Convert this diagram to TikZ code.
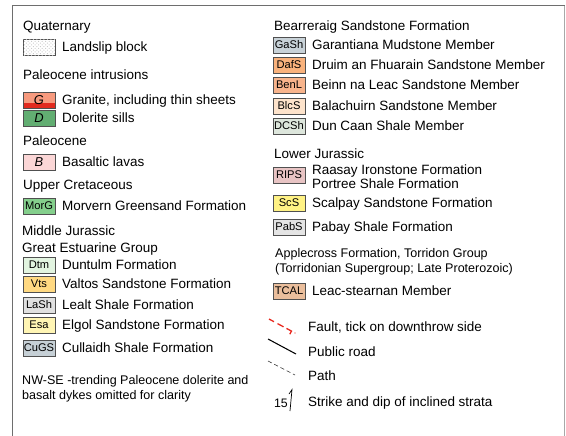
\documentclass[tikz,border=0pt]{standalone}
\usepackage{fontspec}
\setmainfont{Liberation Sans}
\usepackage{tikz}
\usetikzlibrary{positioning,patterns}

\definecolor{cframe}{HTML}{6E6E6E}
\definecolor{cbox}{HTML}{505050}
\definecolor{cgran}{HTML}{F79A7E}
\definecolor{cgred}{HTML}{E22A1E}
\definecolor{cdol}{HTML}{62AE72}
\definecolor{cbas}{HTML}{FBD6D6}
\definecolor{cmorg}{HTML}{84CF8C}
\definecolor{cdtm}{HTML}{E2F4E0}
\definecolor{cvts}{HTML}{FFD982}
\definecolor{clash}{HTML}{E0E0E0}
\definecolor{cesa}{HTML}{FFF5B4}
\definecolor{ccugs}{HTML}{C6D0D6}
\definecolor{cgash}{HTML}{C8D2D8}
\definecolor{cdafs}{HTML}{F9B27C}
\definecolor{cbenl}{HTML}{F8B48C}
\definecolor{cblcs}{HTML}{FDE3CB}
\definecolor{cdcsh}{HTML}{DDE6DC}
\definecolor{crips}{HTML}{E8C4C4}
\definecolor{cscs}{HTML}{FFF284}
\definecolor{cpabs}{HTML}{E4E4E4}
\definecolor{ctcal}{HTML}{EABE9C}
\definecolor{cfault}{HTML}{E8281E}

\tikzset{
  unit/.style={draw=cbox, line width=0.8pt, minimum width=9.6mm, minimum height=4.8mm,
    inner sep=0pt, font=\fontsize{9.5}{9.5}\selectfont},
  bigunit/.style={unit, font=\fontsize{11}{11}\selectfont\itshape},
  lbl/.style={anchor=west, inner sep=0pt, font=\fontsize{11.5}{13}\selectfont,
    text height=8.2pt, text depth=0pt},
  lbltwo/.style={anchor=west, inner sep=0pt, align=left},
}

\begin{document}
\begin{tikzpicture}[x=0.3mm, y=-0.3mm, node distance=1.9mm]
\useasboundingbox (0,0) rectangle (566,435);
% frame
\draw [cframe!60, line width=0.7pt] (564.5,5.5) -- (564.5,440);
\draw [cframe, line width=1.3pt] (12.5,440) -- (12.5,5.5) -- (564.5,5.5);

% left column
\node [ lbl ] (quat) at (23,26) {Quaternary};
\node [ unit, fill=white, postaction={pattern=crosshatch dots, pattern color=gray!45} ] (b_ls) at (39,47) {};
\node [ lbl ] (t_ls) [ right = of b_ls ] {Landslip block};

\node [ lbl ] (pint) at (23,75) {Paleocene intrusions};
\node [ bigunit, fill=cgran, path picture={\fill [cgred] (path picture bounding box.south west)
  rectangle ([yshift=1.4mm]path picture bounding box.south east);} ] (b_g) at (39,100) {G};
\node [ lbl ] (t_g) [ right = of b_g ] {Granite, including thin sheets};
\node [ bigunit, fill=cdol ] (b_d) at (39,118) {D};
\node [ lbl ] (t_d) [ right = of b_d ] {Dolerite sills};

\node [ lbl ] (paleo) at (23,141) {Paleocene};
\node [ bigunit, fill=cbas ] (b_b) at (39,162) {B};
\node [ lbl ] (t_b) [ right = of b_b ] {Basaltic lavas};

\node [ lbl ] (ucret) at (23,185) {Upper Cretaceous};
\node [ unit, fill=cmorg ] (b_morg) at (39,206) {MorG};
\node [ lbl ] (t_morg) [ right = of b_morg ] {Morvern Greensand Formation};

\node [ lbl ] (mjur) at (22,231) {Middle Jurassic};
\node [ lbl ] (geg) at (22,248) {Great Estuarine Group};
\node [ unit, fill=cdtm ] (b_dtm) at (39,265) {Dtm};
\node [ lbl ] (t_dtm) [ right = of b_dtm ] {Duntulm Formation};
\node [ unit, fill=cvts ] (b_vts) at (39,284) {Vts};
\node [ lbl ] (t_vts) [ right = of b_vts ] {Valtos Sandstone Formation};
\node [ unit, fill=clash ] (b_lash) at (39,305) {LaSh};
\node [ lbl ] (t_lash) [ right = of b_lash ] {Lealt Shale Formation};
\node [ unit, fill=cesa ] (b_esa) at (39,325) {Esa};
\node [ lbl ] (t_esa) [ right = of b_esa ] {Elgol Sandstone Formation};
\node [ unit, fill=ccugs ] (b_cugs) at (39,348) {CuGS};
\node [ lbl ] (t_cugs) [ right = of b_cugs ] {Cullaidh Shale Formation};

\node [ lbltwo, font=\fontsize{10.7}{12.8}\selectfont ] (note) at (22,389)
  {NW-SE -trending Paleocene dolerite and\\basalt dykes omitted for clarity};

% right column
\node [ lbl ] (bss) at (274,26) {Bearreraig Sandstone Formation};
\node [ unit, fill=cgash ] (b_gash) at (289,45) {GaSh};
\node [ lbl ] (t_gash) [ right = of b_gash ] {Garantiana Mudstone Member};
\node [ unit, fill=cdafs ] (b_dafs) at (289,65) {DafS};
\node [ lbl ] (t_dafs) [ right = of b_dafs ] {Druim an Fhuarain Sandstone Member};
\node [ unit, fill=cbenl ] (b_benl) at (289,85) {BenL};
\node [ lbl ] (t_benl) [ right = of b_benl ] {Beinn na Leac Sandstone Member};
\node [ unit, fill=cblcs ] (b_blcs) at (289,106) {BlcS};
\node [ lbl ] (t_blcs) [ right = of b_blcs ] {Balachuirn Sandstone Member};
\node [ unit, fill=cdcsh ] (b_dcsh) at (289,126) {DCSh};
\node [ lbl ] (t_dcsh) [ right = of b_dcsh ] {Dun Caan Shale Member};

\node [ lbl ] (ljur) at (274,154) {Lower Jurassic};
\node [ unit, fill=crips ] (b_rips) at (289,175) {RIPS};
\node [ lbltwo, font=\fontsize{11.5}{10.2}\selectfont, yshift=-0.5mm ] (t_rips) [ right = of b_rips ]
  {Raasay Ironstone Formation\\Portree Shale Formation};
\node [ unit, fill=cscs ] (b_scs) at (289,203) {ScS};
\node [ lbl ] (t_scs) [ right = of b_scs ] {Scalpay Sandstone Formation};
\node [ unit, fill=cpabs ] (b_pabs) at (289,227) {PabS};
\node [ lbl ] (t_pabs) [ right = of b_pabs ] {Pabay Shale Formation};

\node [ lbltwo, font=\fontsize{10.7}{12.8}\selectfont ] (apple) at (275,262)
  {Applecross Formation, Torridon Group\\(Torridonian Supergroup; Late Proterozoic)};
\node [ unit, fill=ctcal ] (b_tcal) at (289,291) {TCAL};
\node [ lbl ] (t_tcal) [ right = of b_tcal ] {Leac-stearnan Member};

% line symbols
\draw [cfault, line width=1.1pt] (269,319) -- (274,321.7) (277.5,323.6) -- (283.5,326.8) (286.5,328.4) -- (291.5,331.1) -- (289.8,334.2);
\fill [cfault] (295,333) circle (0.6);
\node [ lbl ] (t_fault) at (308,327) {Fault, tick on downthrow side};
\draw [black, line width=0.9pt] (268,339) -- (296,354);
\node [ lbl ] (t_road) at (308,352) {Public road};
\draw [black!80, line width=0.5pt, dash pattern=on 3.5 off 2.5] (268,361) -- (295,375);
\node [ lbl ] (t_path) at (308,376) {Path};
\node [ anchor=east, inner sep=0pt, font=\fontsize{10.5}{11}\selectfont ] (dip) at (288,403) {15};
\draw [black, line width=0.6pt] (289,394) -- (292,389.5) -- (290,411);
\node [ lbl ] (t_strike) at (308,402) {Strike and dip of inclined strata};
\end{tikzpicture}
\end{document}
